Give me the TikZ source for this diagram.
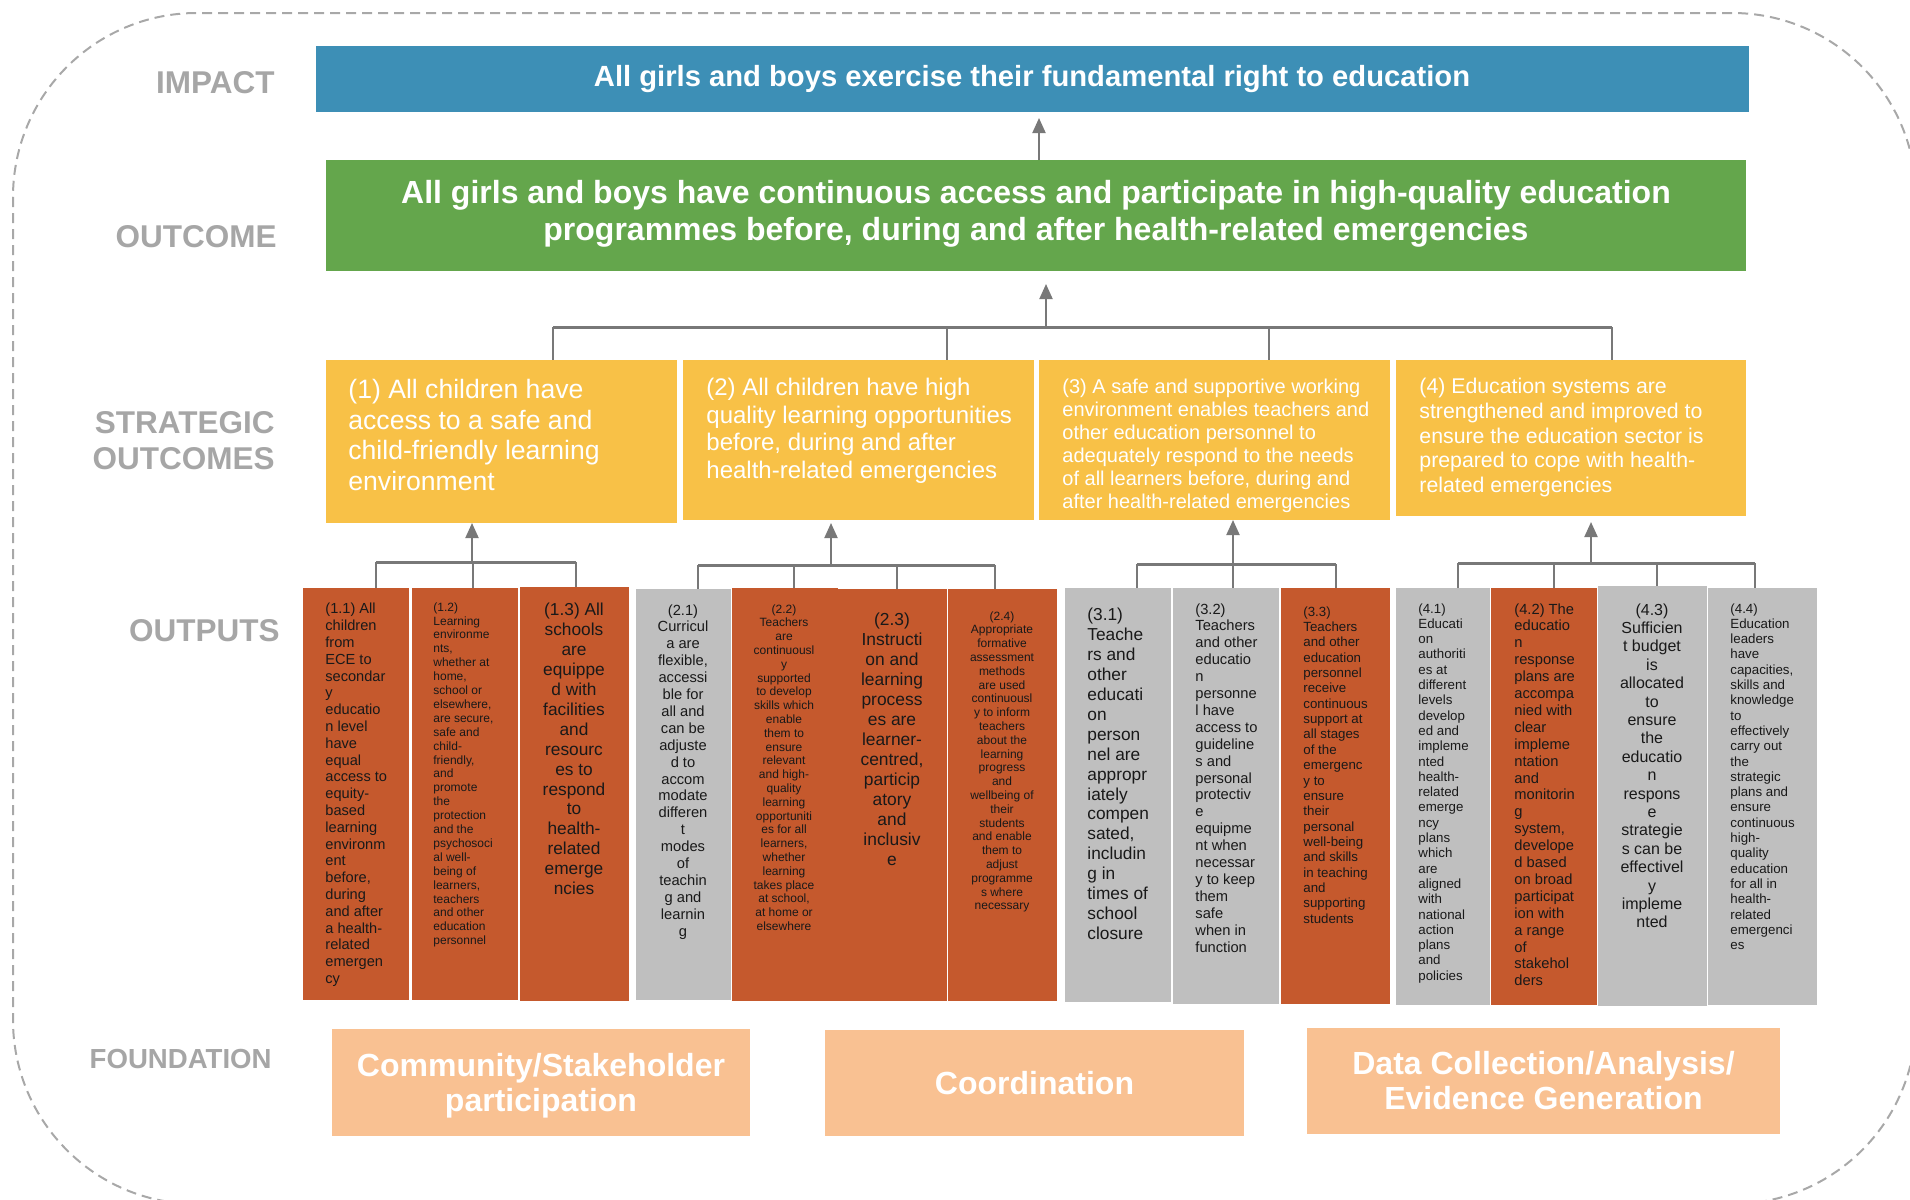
\documentclass[tikz,border=0pt]{standalone}
\usepackage{fontspec}
\setmainfont{Liberation Sans}
\usetikzlibrary{arrows.meta}
\definecolor{cblue}{HTML}{3D8FB6}
\definecolor{cgreen}{HTML}{64A64C}
\definecolor{cyellow}{HTML}{F8C147}
\definecolor{corange}{HTML}{C5592D}
\definecolor{cgray}{HTML}{BFBFBF}
\definecolor{cpeach}{HTML}{F9C192}
\definecolor{clabel}{HTML}{A6A6A6}
\definecolor{cline}{HTML}{787878}
\definecolor{cborder}{HTML}{A8A8A8}
\tikzset{
  box/.style={draw=none, inner sep=0pt, outer sep=0pt, anchor=north west},
  lab/.style={text=clabel, font=\bfseries\fontsize{15.75}{18}\selectfont, inner sep=0pt, anchor=east, align=right},
  stext/.style={text=white, inner sep=0pt, anchor=north west, align=left},
  otl/.style={text=black!90, inner sep=0pt, anchor=north west, align=left},
  otc/.style={text=black!90, inner sep=0pt, anchor=north, align=center},
  ftext/.style={text=white, font=\bfseries\fontsize{16}{17.5}\selectfont, align=center},
  conn/.style={draw=cline, line width=1pt},
  barline/.style={draw=cline, line width=1.5pt},
  arr/.style={draw=cline, line width=1pt, -{Triangle[length=7.5pt,width=6.5pt]}},
  border/.style={draw=cborder, line width=1pt, dash pattern=on 5pt off 3pt, rounded corners=92pt}
}
\begin{document}
\begin{tikzpicture}[x=0.5pt,y=-0.5pt]
\useasboundingbox (0,0) rectangle (1910,1199);
\draw[border] (13,13) rectangle (1916,1204);

% labels
\node[lab] (limpact) at (275,83) {IMPACT};
\node[lab] (loutcome) at (277,237) {OUTCOME};
\node[lab, font=\bfseries\fontsize{15.75}{18}\selectfont] (lstrat) at (275,441) {STRATEGIC\\OUTCOMES};
\node[lab] (loutputs) at (280,631) {OUTPUTS};
\node[lab, font=\bfseries\fontsize{13.8}{16}\selectfont] (lfound) at (272,1059) {FOUNDATION};

% impact and outcome
\node[box, fill=cblue, minimum width=716.5pt, minimum height=33pt] (impact) at (316,46) {};
\node[text=white, font=\bfseries\fontsize{14.6}{17}\selectfont, inner sep=0pt] (impacttext) at (1032,79) {All girls and boys exercise their fundamental right to education};
\node[box, fill=cgreen, minimum width=710pt, minimum height=55.5pt] (outcome) at (326,160) {};
\node[text=white, font=\bfseries\fontsize{16}{18.5}\selectfont, inner sep=0pt, align=center] (outcometext) at (1036,214) {All girls and boys have continuous access and participate in high-quality education\\programmes before, during and after health-related emergencies};

% strategic outcomes
\node[box, fill=cyellow, minimum width=175.5pt, minimum height=81.5pt] (s1) at (326,360) {};
\node[box, fill=cyellow, minimum width=175.5pt, minimum height=80pt] (s2) at (683,360) {};
\node[box, fill=cyellow, minimum width=175.5pt, minimum height=80pt] (s3) at (1039,360) {};
\node[box, fill=cyellow, minimum width=175pt, minimum height=78pt] (s4) at (1396,360) {};
\node[stext, font=\fontsize{13.3}{15.25}\selectfont] (st1) at (348,379) {(1) All children have\\access to a safe and\\child-friendly learning\\environment};
\node[stext, font=\fontsize{12}{13.8}\selectfont] (st2) at (706,378) {(2) All children have high\\quality learning opportunities\\before, during and after\\health-related emergencies};
\node[stext, font=\fontsize{10}{11.45}\selectfont] (st3) at (1062,379) {(3) A safe and supportive working\\environment enables teachers and\\other education personnel to\\adequately respond to the needs\\of all learners before, during and\\after health-related emergencies};
\node[stext, font=\fontsize{10.65}{12.35}\selectfont] (st4) at (1419,378) {(4) Education systems are\\strengthened and improved to\\ensure the education sector is\\prepared to cope with health-\\related emergencies};

% outputs
\node[box, fill=corange, minimum width=53pt, minimum height=206pt] (b11) at (303,588) {};
\node[box, fill=corange, minimum width=53pt, minimum height=206pt] (b12) at (412,588) {};
\node[box, fill=corange, minimum width=54.5pt, minimum height=207pt] (b13) at (520,587) {};
\node[box, fill=cgray, minimum width=47.5pt, minimum height=205.5pt] (b21) at (636,589) {};
\node[box, fill=corange, minimum width=53pt, minimum height=206.5pt] (b22) at (732,588) {};
\node[box, fill=corange, minimum width=54.5pt, minimum height=206pt] (b23) at (838,589) {};
\node[box, fill=corange, minimum width=54.5pt, minimum height=206pt] (b24) at (948,589) {};
\node[box, fill=cgray, minimum width=53pt, minimum height=207pt] (b31) at (1065,588) {};
\node[box, fill=cgray, minimum width=53pt, minimum height=208pt] (b32) at (1173,588) {};
\node[box, fill=corange, minimum width=54.5pt, minimum height=208pt] (b33) at (1281,588) {};
\node[box, fill=cgray, minimum width=47pt, minimum height=208.5pt] (b41) at (1396,588) {};
\node[box, fill=corange, minimum width=53pt, minimum height=208.5pt] (b42) at (1491,588) {};
\node[box, fill=cgray, minimum width=54.5pt, minimum height=210pt] (b43) at (1598,586) {};
\node[box, fill=cgray, minimum width=54.5pt, minimum height=208.5pt] (b44) at (1708,588) {};

\node[otl, font=\fontsize{7.3}{8.4}\selectfont] (t11) at (325,603) {(1.1) All\\children\\from\\ECE to\\secondar\\y\\educatio\\n level\\have\\equal\\access to\\equity-\\based\\learning\\environm\\ent\\before,\\during\\and after\\a health-\\related\\emergen\\cy};
\node[otl, font=\fontsize{6}{6.95}\selectfont] (t12) at (433,602) {(1.2)\\Learning\\environme\\nts,\\whether at\\home,\\school or\\elsewhere,\\are secure,\\safe and\\child-\\friendly,\\and\\promote\\the\\protection\\and the\\psychosoci\\al well-\\being of\\learners,\\teachers\\and other\\education\\personnel};
\node[otc, font=\fontsize{8.65}{9.95}\selectfont] (t13) at (574,603) {(1.3) All\\schools\\are\\equippe\\d with\\facilities\\and\\resourc\\es to\\respond\\to\\health-\\related\\emerge\\ncies};
\node[otc, font=\fontsize{7.35}{8.45}\selectfont] (t21) at (683,604) {(2.1)\\Curricul\\a are\\flexible,\\accessi\\ble for\\all and\\can be\\adjuste\\d to\\accom\\modate\\differen\\t\\modes\\of\\teachin\\g and\\learnin\\g};
\node[otc, font=\fontsize{6}{6.9}\selectfont] (t22) at (784,604) {(2.2)\\Teachers\\are\\continuousl\\y\\supported\\to develop\\skills which\\enable\\them to\\ensure\\relevant\\and high-\\quality\\learning\\opportuniti\\es for all\\learners,\\whether\\learning\\takes place\\at school,\\at home or\\elsewhere};
\node[otc, font=\fontsize{8.7}{10}\selectfont] (t23) at (892,612) {(2.3)\\Instructi\\on and\\learning\\process\\es are\\learner-\\centred,\\particip\\atory\\and\\inclusiv\\e};
\node[otc, font=\fontsize{6}{6.9}\selectfont] (t24) at (1002,611) {(2.4)\\Appropriate\\formative\\assessment\\methods\\are used\\continuousl\\y to inform\\teachers\\about the\\learning\\progress\\and\\wellbeing of\\their\\students\\and enable\\them to\\adjust\\programme\\s where\\necessary};
\node[otl, font=\fontsize{8.65}{9.95}\selectfont] (t31) at (1087,608) {(3.1)\\Teache\\rs and\\other\\educati\\on\\person\\nel are\\appropr\\iately\\compen\\sated,\\includin\\g in\\times of\\school\\closure};
\node[otl, font=\fontsize{7.35}{8.45}\selectfont] (t32) at (1195,603) {(3.2)\\Teachers\\and other\\educatio\\n\\personne\\l have\\access to\\guideline\\s and\\personal\\protectiv\\e\\equipme\\nt when\\necessar\\y to keep\\them\\safe\\when in\\function};
\node[otl, font=\fontsize{6.65}{7.68}\selectfont] (t33) at (1303,606) {(3.3)\\Teachers\\and other\\education\\personnel\\receive\\continuous\\support at\\all stages\\of the\\emergenc\\y to\\ensure\\their\\personal\\well-being\\and skills\\in teaching\\and\\supporting\\students};
\node[otl, font=\fontsize{6.65}{7.65}\selectfont] (t41) at (1418,603) {(4.1)\\Educati\\on\\authoriti\\es at\\different\\levels\\develop\\ed and\\impleme\\nted\\health-\\related\\emerge\\ncy\\plans\\which\\are\\aligned\\with\\national\\action\\plans\\and\\policies};
\node[otl, font=\fontsize{7.35}{8.45}\selectfont] (t42) at (1514,603) {(4.2) The\\educatio\\n\\response\\plans are\\accompa\\nied with\\clear\\impleme\\ntation\\and\\monitorin\\g\\system,\\develope\\d based\\on broad\\participat\\ion with\\a range\\of\\stakehol\\ders};
\node[otc, font=\fontsize{8}{9.2}\selectfont] (t43) at (1652,603) {(4.3)\\Sufficien\\t budget\\is\\allocated\\to\\ensure\\the\\educatio\\n\\respons\\e\\strategie\\s can be\\effectivel\\y\\impleme\\nted};
\node[otl, font=\fontsize{6.65}{7.65}\selectfont] (t44) at (1730,603) {(4.4)\\Education\\leaders\\have\\capacities,\\skills and\\knowledge\\to\\effectively\\carry out\\the\\strategic\\plans and\\ensure\\continuous\\high-\\quality\\education\\for all in\\health-\\related\\emergenci\\es};

% foundation
\node[box, fill=cpeach, minimum width=209pt, minimum height=53.5pt, ftext, text depth=0pt, yshift=0pt] (f1) at (332,1029) {Community/Stakeholder\\participation};
\node[box, fill=cpeach, minimum width=209.5pt, minimum height=53pt, ftext] (f2) at (825,1030) {Coordination};
\node[box, fill=cpeach, minimum width=236.5pt, minimum height=53pt, ftext] (f3) at (1307,1028) {Data Collection/Analysis/\\Evidence Generation};

% connectors: outcome -> impact
\coordinate (ia) at (1039,140);
\draw[arr, shorten >=3pt] (outcome.north -| ia) -- (impact.south -| ia);

% strategic -> outcome
\coordinate (oa) at (1046,327);
\coordinate (tb1) at (553,327);
\coordinate (tb2) at (947,327);
\coordinate (tb3) at (1269,327);
\coordinate (tb4) at (1612,327);
\draw[barline] (tb1) -- (tb4);
\draw[conn] (tb1) -- (s1.north -| tb1);
\draw[conn] (tb2) -- (s2.north -| tb2);
\draw[conn] (tb3) -- (s3.north -| tb3);
\draw[conn] (tb4) -- (s4.north -| tb4);
\draw[arr, shorten >=6.5pt] (oa) -- (outcome.south -| oa);

% group 1
\coordinate (g1a) at (376,562);
\coordinate (g1b) at (473,562);
\coordinate (g1c) at (576,562);
\coordinate (g1r) at (472,562);
\draw[barline] (g1a) -- (g1c);
\draw[conn] (g1a) -- (b11.north -| g1a);
\draw[conn] (g1b) -- (b12.north -| g1b);
\draw[conn] (g1c) -- (b13.north -| g1c);
\draw[arr] (g1r) -- (s1.south -| g1r);

% group 2
\coordinate (g2a) at (698,565);
\coordinate (g2b) at (794,565);
\coordinate (g2c) at (897,565);
\coordinate (g2d) at (995,565);
\coordinate (g2r) at (831,565);
\draw[barline] (g2a) -- (g2d);
\draw[conn] (g2a) -- (b21.north -| g2a);
\draw[conn] (g2b) -- (b22.north -| g2b);
\draw[conn] (g2c) -- (b23.north -| g2c);
\draw[conn] (g2d) -- (b24.north -| g2d);
\draw[arr, shorten >=1.5pt] (g2r) -- (s2.south -| g2r);

% group 3
\coordinate (g3a) at (1137,564);
\coordinate (g3b) at (1233,564);
\coordinate (g3c) at (1336,564);
\coordinate (g3r) at (1233,564);
\draw[barline] (g3a) -- (g3c);
\draw[conn] (g3a) -- (b31.north -| g3a);
\draw[conn] (g3b) -- (b32.north -| g3b);
\draw[conn] (g3c) -- (b33.north -| g3c);
\draw[arr] (g3r) -- (s3.south -| g3r);

% group 4
\coordinate (g4a) at (1458,563);
\coordinate (g4b) at (1554,563);
\coordinate (g4c) at (1657,563);
\coordinate (g4d) at (1755,563);
\coordinate (g4r) at (1591,563);
\draw[barline] (g4a) -- (g4d);
\draw[conn] (g4a) -- (b41.north -| g4a);
\draw[conn] (g4b) -- (b42.north -| g4b);
\draw[conn] (g4c) -- (b43.north -| g4c);
\draw[conn] (g4d) -- (b44.north -| g4d);
\draw[arr, shorten >=3pt] (g4r) -- (s4.south -| g4r);
\end{tikzpicture}
\end{document}
